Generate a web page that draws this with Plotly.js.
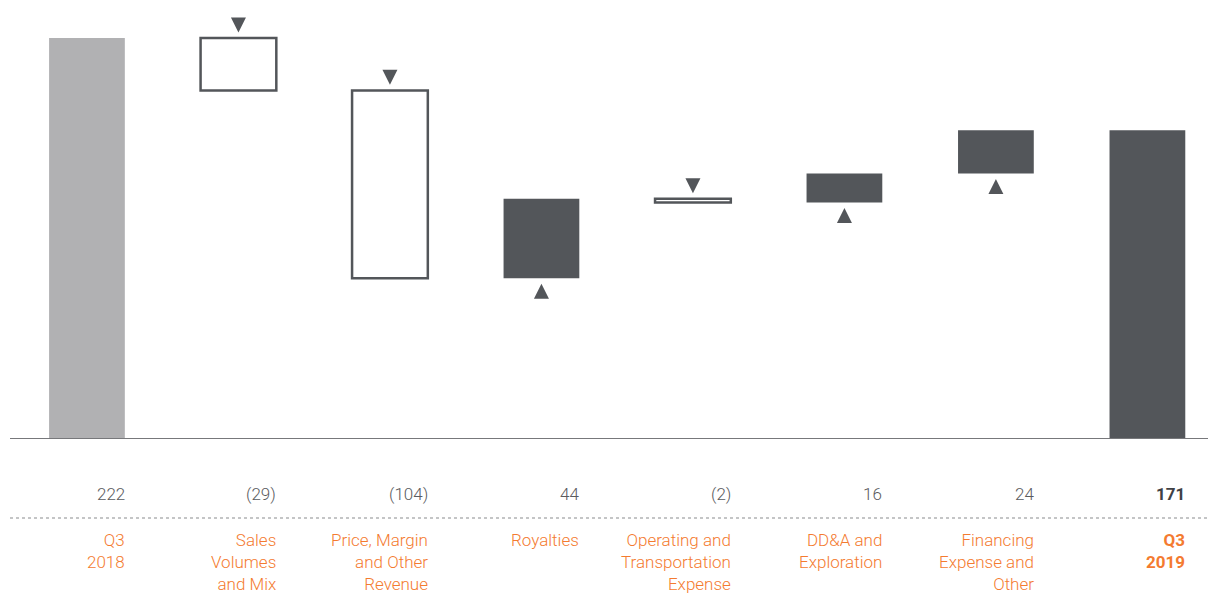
<!DOCTYPE html>
<html>
<head>
<meta charset="utf-8">
<script src="https://cdn.plot.ly/plotly-3.0.1.min.js"></script>
<style>
html,body{margin:0;padding:0;background:#fff;}
#chart{width:1208px;height:593px;}
</style>
</head>
<body>
<div id="chart"></div>
<script>
// ---- data ----
const categories = [
  "Q3<br>2018",
  "Sales<br>Volumes<br>and Mix",
  "Price, Margin<br>and Other<br>Revenue",
  "Royalties",
  "Operating and<br>Transportation<br>Expense",
  "DD&A and<br>Exploration",
  "Financing<br>Expense and<br>Other",
  "Q3<br>2019"
];
const values = [222, -29, -104, 44, -2, 16, 24, 171];
const kinds = ["total", "delta", "delta", "delta", "delta", "delta", "delta", "total"];

// ---- styling ----
const DARK = "#53565a";
const LIGHT = "#b1b1b3";
const ORANGE = "#f47b30";
const VALGRAY = "#5a5b5e";
const FONT = "Roboto, 'Open Sans', sans-serif";

const xs = categories.map((_, i) => i);
const bases = [], heights = [], fills = [], lines = [], lws = [];
let run = 0;
values.forEach((v, i) => {
  if (kinds[i] === "total") {
    bases.push(0); heights.push(v); run = v;
    fills.push(i === 0 ? LIGHT : DARK); lines.push(i === 0 ? LIGHT : DARK); lws.push(0);
  } else {
    const start = run, end = run + v;
    bases.push(Math.min(start, end)); heights.push(Math.abs(v));
    if (v < 0) { fills.push("#ffffff"); lines.push(DARK); lws.push(2.5); }
    else { fills.push(DARK); lines.push(DARK); lws.push(0); }
    run = end;
  }
});

// triangles (arrow markers: tip sits on the point)
const OFF = 3.1;
const downX = [], downY = [], upX = [], upY = [];
values.forEach((v, i) => {
  if (kinds[i] !== "delta") return;
  if (v < 0) { downX.push(i); downY.push(bases[i] + heights[i] + OFF); }
  else { upX.push(i); upY.push(bases[i] - OFF); }
});

const traces = [
  {
    type: "bar", x: xs, y: heights, base: bases, width: 0.5,
    marker: { color: fills, line: { color: lines, width: lws } },
    hoverinfo: "skip", showlegend: false
  },
  {
    type: "scatter", mode: "markers", x: downX, y: downY,
    marker: { symbol: "arrow-down", size: 15, color: DARK, line: { width: 0 } },
    hoverinfo: "skip", showlegend: false, cliponaxis: false
  },
  {
    type: "scatter", mode: "markers", x: upX, y: upY,
    marker: { symbol: "arrow-up", size: 15, color: DARK, line: { width: 0 } },
    hoverinfo: "skip", showlegend: false, cliponaxis: false
  }
];

const PLOT_H = 429; // px height of plot area
const pyOf = px => (439 - px) / PLOT_H; // screen px -> paper y

const annotations = [];
values.forEach((v, i) => {
  const last = i === values.length - 1;
  let txt = v < 0 ? "(" + Math.abs(v) + ")" : String(v);
  if (last) txt = "<b>" + txt + "</b>";
  annotations.push({
    xref: "x", yref: "paper", x: i + 0.25, y: pyOf(494), xshift: 2,
    xanchor: "right", yanchor: "middle", showarrow: false, text: txt,
    font: { family: FONT, size: 17, weight: last ? 700 : 300, color: last ? "#3f4145" : VALGRAY }
  });
  let lab = categories[i];
  if (last) lab = lab.split("<br>").map(s => "<b>" + s + "</b>").join("<br>");
  annotations.push({
    xref: "x", yref: "paper", x: i + 0.25, y: pyOf(528), xshift: 2,
    xanchor: "right", yanchor: "top", align: "right", showarrow: false, text: lab,
    font: { family: FONT, size: 17, weight: last ? 700 : 300, color: ORANGE }
  });
});

const layout = {
  width: 1208, height: 593,
  margin: { l: 10, r: 0, t: 10, b: 154 },
  paper_bgcolor: "#fff", plot_bgcolor: "#fff",
  xaxis: { range: [-0.508, 7.40], showgrid: false, zeroline: false, showticklabels: false, ticks: "", fixedrange: true },
  yaxis: { range: [0, PLOT_H / 1.806], showgrid: false, zeroline: false, showticklabels: false, ticks: "", fixedrange: true },
  shapes: [
    { type: "line", xref: "paper", yref: "y", x0: 0, x1: 1, y0: 0, y1: 0, line: { color: "#77787b", width: 2 } },
    { type: "line", xref: "paper", yref: "paper", x0: 0, x1: 1, y0: pyOf(518), y1: pyOf(518), line: { color: "#8a8b8e", width: 1.2, dash: "dot" } }
  ],
  annotations: annotations,
  font: { family: FONT },
  bargap: 0
};

Plotly.newPlot("chart", traces, layout, { displayModeBar: false, staticPlot: true });
</script>
</body>
</html>
